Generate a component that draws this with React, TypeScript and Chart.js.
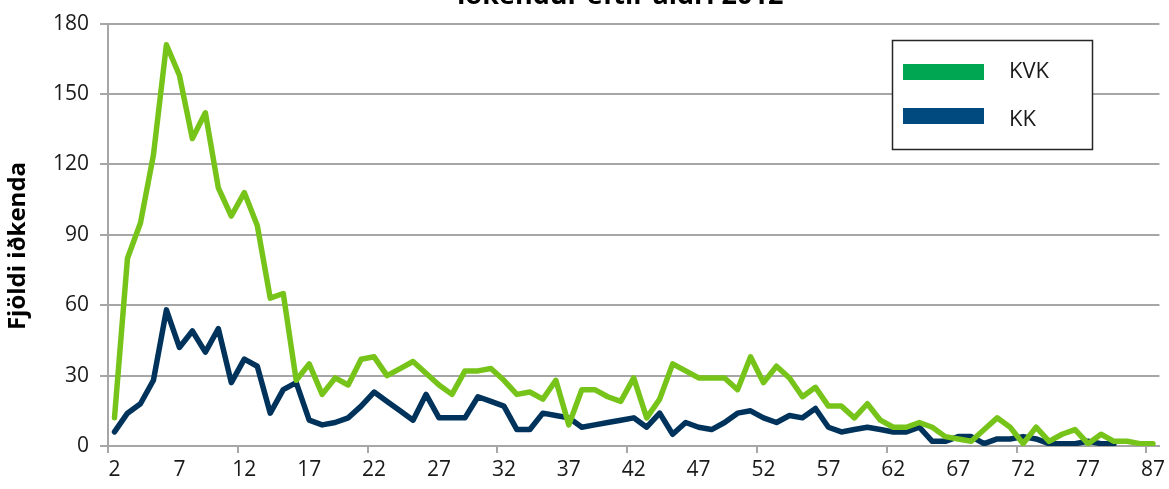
import { useEffect, useRef } from 'react';
import { Chart, registerables } from 'chart.js';

Chart.register(...registerables);

const ages = [
  '2', '3', '4', '5', '6', '7', '8', '9', '10', '11',
  '12', '13', '14', '15', '16', '17', '18', '19', '20', '21',
  '22', '23', '24', '25', '26', '27', '28', '29', '30', '31',
  '32', '33', '34', '35', '36', '37', '38', '39', '40', '41',
  '42', '43', '44', '45', '46', '47', '48', '49', '50', '51',
  '52', '53', '54', '55', '56', '57', '58', '59', '60', '61',
  '62', '63', '64', '65', '66', '67', '68', '69', '70', '71',
  '72', '73', '74', '75', '76', '77', '78', '79', '80', '81',
  '87',
];

const kvk = [
  12, 80, 95, 124, 171, 158, 131, 142, 110, 98,
  108, 94, 63, 65, 28, 35, 22, 29, 26, 37,
  38, 30, 33, 36, 31, 26, 22, 32, 32, 33,
  28, 22, 23, 20, 28, 9, 24, 24, 21, 19,
  29, 12, 20, 35, 32, 29, 29, 29, 24, 38,
  27, 34, 29, 21, 25, 17, 17, 12, 18, 11,
  8, 8, 10, 8, 4, 3, 2, 7, 12, 8,
  1, 8, 2, 5, 7, 1, 5, 2, 2, 1,
  1,
];

const kk = [
  6, 14, 18, 28, 58, 42, 49, 40, 50, 27,
  37, 34, 14, 24, 27, 11, 9, 10, 12, 17,
  23, 19, 15, 11, 22, 12, 12, 12, 21, 19,
  17, 7, 7, 14, 13, 12, 8, 9, 10, 11,
  12, 8, 14, 5, 10, 8, 7, 10, 14, 15,
  12, 10, 13, 12, 16, 8, 6, 7, 8, 7,
  6, 6, 8, 2, 2, 4, 4, 1, 3, 3,
  4, 3, 1, 1, 1, 2, 1, 1, null, null,
  null,
];

const seriesNames = ['KVK', 'KK'];
const lineColors = ['#76C41A', '#00335C'];
const legendColors = ['#00A651', '#004A80'];
const chartTitle = 'Iðkendur eftir aldri 2012';
const yTitle = 'Fjöldi iðkenda';
const yMin = 0;
const yMax = 180;
const yStep = 30;

const FONT = "'Open Sans', sans-serif";
const GRID = '#A6A6A6';

const overlayPlugin = {
  id: 'overlay',
  afterDraw(chart: any) {
    const ctx = chart.ctx;
    ctx.save();
    // title (mostly above the visible area)
    ctx.fillStyle = '#000';
    ctx.font = `bold 27px ${FONT}`;
    ctx.textAlign = 'center';
    ctx.textBaseline = 'alphabetic';
    ctx.fillText(chartTitle, 620, 4);

    // y axis title
    ctx.save();
    ctx.translate(18, 246);
    ctx.rotate(-Math.PI / 2);
    ctx.font = `bold 24px ${FONT}`;
    ctx.textAlign = 'center';
    ctx.textBaseline = 'middle';
    ctx.fillText(yTitle, 0, 0);
    ctx.restore();

    // legend box
    const bx = 892.5, by = 40.5, bw = 200, bh = 109;
    ctx.fillStyle = '#fff';
    ctx.fillRect(bx, by, bw, bh);
    ctx.strokeStyle = '#262626';
    ctx.lineWidth = 1.5;
    ctx.strokeRect(bx, by, bw, bh);
    const rows = [64, 108];
    ctx.font = `22px ${FONT}`;
    ctx.textAlign = 'left';
    ctx.textBaseline = 'middle';
    chart.data.datasets.forEach((ds: any, i: number) => {
      ctx.fillStyle = legendColors[i];
      ctx.fillRect(903, rows[i], 81, 16);
      ctx.fillStyle = '#1a1a1a';
      ctx.fillText(ds.label, 1009, rows[i] + 8 + (i === 1 ? 4 : 0));
    });
    ctx.restore();
  },
};

export default function App() {
  const ref = useRef<HTMLCanvasElement>(null);
  useEffect(() => {
    if (!ref.current) return;
    const chart = new Chart(ref.current, {
      type: 'line',
      data: {
        labels: ages,
        datasets: [
          {
            label: seriesNames[0],
            data: kvk,
            borderColor: lineColors[0],
            backgroundColor: lineColors[0],
            borderWidth: 5.5,
            pointRadius: 0,
            tension: 0,
            borderJoinStyle: 'round',
            borderCapStyle: 'round',
          },
          {
            label: seriesNames[1],
            data: kk,
            borderColor: lineColors[1],
            backgroundColor: lineColors[1],
            borderWidth: 5.5,
            pointRadius: 0,
            tension: 0,
            borderJoinStyle: 'round',
            borderCapStyle: 'round',
            spanGaps: false,
          },
        ],
      },
      options: {
        animation: false,
        responsive: false,
        maintainAspectRatio: false,
        layout: { padding: { top: 21, right: 8, left: 0, bottom: 0 } },
        plugins: {
          legend: { display: false },
          title: { display: false },
          tooltip: { enabled: false },
        },
        scales: {
          x: {
            type: 'category',
            offset: true,
            afterFit: (s: any) => { s.height = 43; },
            grid: {
              offset: true,
              drawOnChartArea: false,
              drawTicks: true,
              tickLength: 7,
              lineWidth: 2,
              color: (c: any) => (c.index % 10 === 0 ? GRID : 'rgba(0,0,0,0)'),
            },
            border: { color: GRID, width: 2 },
            ticks: {
              autoSkip: false,
              maxRotation: 0,
              minRotation: 0,
              padding: 4,
              color: '#1a1a1a',
              font: { family: FONT, size: 21 },
              callback: (_v: any, i: number) => (i % 5 === 0 ? ages[i] : ''),
            },
          },
          y: {
            min: yMin,
            max: yMax,
            afterFit: (s: any) => { s.width = 108; },
            grid: { color: GRID, lineWidth: 2, tickLength: 8 },
            border: { color: GRID, width: 2 },
            ticks: {
              stepSize: yStep,
              padding: 11,
              color: '#1a1a1a',
              font: { family: FONT, size: 21 },
            },
          },
        },
      },
      plugins: [overlayPlugin],
    });
    return () => chart.destroy();
  }, []);
  return (
    <div style={{ position: 'absolute', left: 0, top: 0, width: 1169, height: 489, background: '#fff' }}>
      <canvas ref={ref} width={1169} height={489} style={{ width: 1169, height: 489, display: 'block' }} />
    </div>
  );
}
